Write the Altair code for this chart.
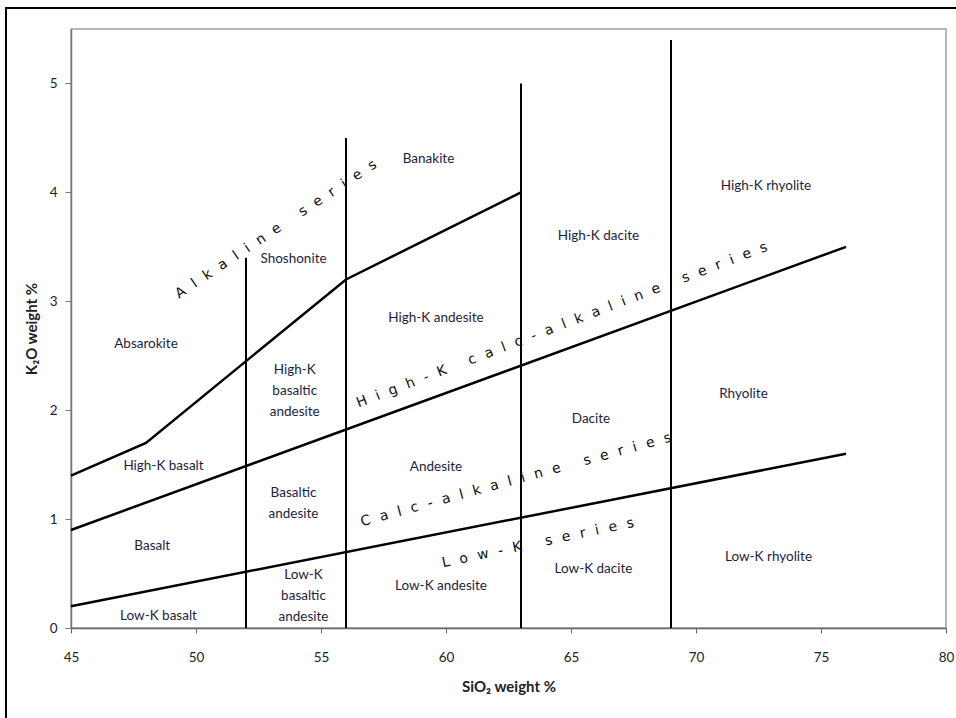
import altair as alt
import pandas as pd

# ---- data ----
alk_x = [45, 48, 56, 63]
alk_y = [1.4, 1.7, 3.2, 4.0]
hk_x = [45, 76]
hk_y = [0.9, 3.5]
lk_x = [45, 76]
lk_y = [0.2, 1.6]

vert_x = [52, 56, 63, 69]
vert_top = [3.4, 4.5, 5.0, 5.4]

rock_names = ["Absarokite", "High-K basalt", "Basalt", "Low-K basalt",
              "Shoshonite", "Banakite", "High-K\nbasaltic\nandesite",
              "Basaltic\nandesite", "Low-K\nbasaltic\nandesite",
              "High-K andesite", "Andesite", "Low-K andesite",
              "High-K dacite", "Dacite", "Low-K dacite",
              "High-K rhyolite", "Rhyolite", "Low-K rhyolite"]
rock_x = [48.0, 48.7, 48.25, 48.5, 53.9, 59.3, 53.95, 53.9, 54.3,
          59.6, 59.6, 59.8, 66.1, 65.8, 65.9, 72.8, 71.9, 72.9]
rock_y = [2.61, 1.49, 0.75, 0.11, 3.39, 4.31, 2.37, 1.24, 0.49,
          2.85, 1.48, 0.39, 3.60, 1.92, 0.54, 4.06, 2.15, 0.65]

series_names = ["Alkaline series", "High-K calc-alkaline series",
                "Calc-alkaline series", "Low-K series"]
series_x = [53.2, 64.64, 62.8, 63.68]
series_y = [3.66, 2.78, 1.36, 0.78]
series_angle = [326.4, 339.0, 344.7, 348.0]

x_ticks = [45, 50, 55, 60, 65, 70, 75, 80]
y_ticks = [0, 1, 2, 3, 4, 5]


def spaced(s):
    gap = "\u2002\u2009"
    return gap.join("\u00a0" if c == " " else c for c in s)


# ---- tables ----
rows = []
for name, xs, ys in [("alk", alk_x, alk_y), ("hk", hk_x, hk_y), ("lk", lk_x, lk_y)]:
    for i, (a, b) in enumerate(zip(xs, ys)):
        rows.append({"line": name, "order": i, "x": a, "y": b})
lines_df = pd.DataFrame(rows)

vert_df = pd.DataFrame({"x": vert_x, "y0": [0] * len(vert_x), "top": vert_top})
rock_df = pd.DataFrame({"name": rock_names, "x": rock_x, "y": rock_y})
series_df = pd.DataFrame({"name": [spaced(s) for s in series_names],
                          "x": series_x, "y": series_y, "angle": series_angle})

xs = alt.Scale(domain=[45, 80], nice=False, zero=False)
ys = alt.Scale(domain=[0, 5.5], nice=False)

lbl_font = "Lato"

x_axis = alt.Axis(values=x_ticks, title="SiO\u2082 weight %", grid=False, format="d",
                  tickSize=5, labelPadding=17, titlePadding=16, labelFlush=False,
                  labelFont=lbl_font, labelFontSize=13.5, labelColor="#222",
                  titleFont=lbl_font, titleFontSize=15, titleFontWeight="bold",
                  titleColor="#222", domainColor="#666", tickColor="#666",
                  domainWidth=1.5)
y_axis = alt.Axis(values=y_ticks, title="K\u2082O weight %", grid=False, format="d",
                  tickSize=6, labelPadding=8, titlePadding=10, labelFlush=False,
                  labelFont=lbl_font, labelFontSize=13.5, labelColor="#222",
                  titleFont=lbl_font, titleFontSize=15, titleFontWeight="bold",
                  titleColor="#222", domainColor="#777", tickColor="#777",
                  domainWidth=1.5)

frame = alt.Chart(pd.DataFrame({"k": [0]})).mark_rect(
    fill=None, stroke="black", strokeWidth=2, clip=False
).encode(x=alt.value(-65), x2=alt.value(905), y=alt.value(-21), y2=alt.value(720))

lines = alt.Chart(lines_df).mark_line(color="black", strokeWidth=2.5).encode(
    x=alt.X("x:Q", scale=xs, axis=x_axis),
    y=alt.Y("y:Q", scale=ys, axis=y_axis),
    detail="line:N",
    order="order:Q",
)

verts = alt.Chart(vert_df).mark_rule(color="black", strokeWidth=2).encode(
    x=alt.X("x:Q", scale=xs),
    y=alt.Y("y0:Q", scale=ys),
    y2="top:Q",
)

rocks = alt.Chart(rock_df).mark_text(
    font=lbl_font, fontSize=13.5, color="#1e1e3a", lineBreak="\n", lineHeight=21,
    align="center", baseline="middle"
).encode(
    x=alt.X("x:Q", scale=xs),
    y=alt.Y("y:Q", scale=ys),
    text="name:N",
)

series = alt.Chart(series_df).mark_text(
    font="DejaVu Sans", fontSize=14, color="#111", align="center", baseline="middle"
).encode(
    x=alt.X("x:Q", scale=xs),
    y=alt.Y("y:Q", scale=ys),
    angle=alt.Angle("angle:Q", scale=None),
    text="name:N",
)

chart = alt.layer(frame, lines, verts, rocks, series).properties(
    width=875, height=599,
    autosize=alt.AutoSizeParams(type="none"),
    padding={"left": 71, "top": 29, "right": 10, "bottom": 90},
    background="white",
).configure_view(stroke="#a0a0a0", strokeWidth=1.5)

chart.save("out.html", embed_options={"renderer": "svg", "actions": False})
